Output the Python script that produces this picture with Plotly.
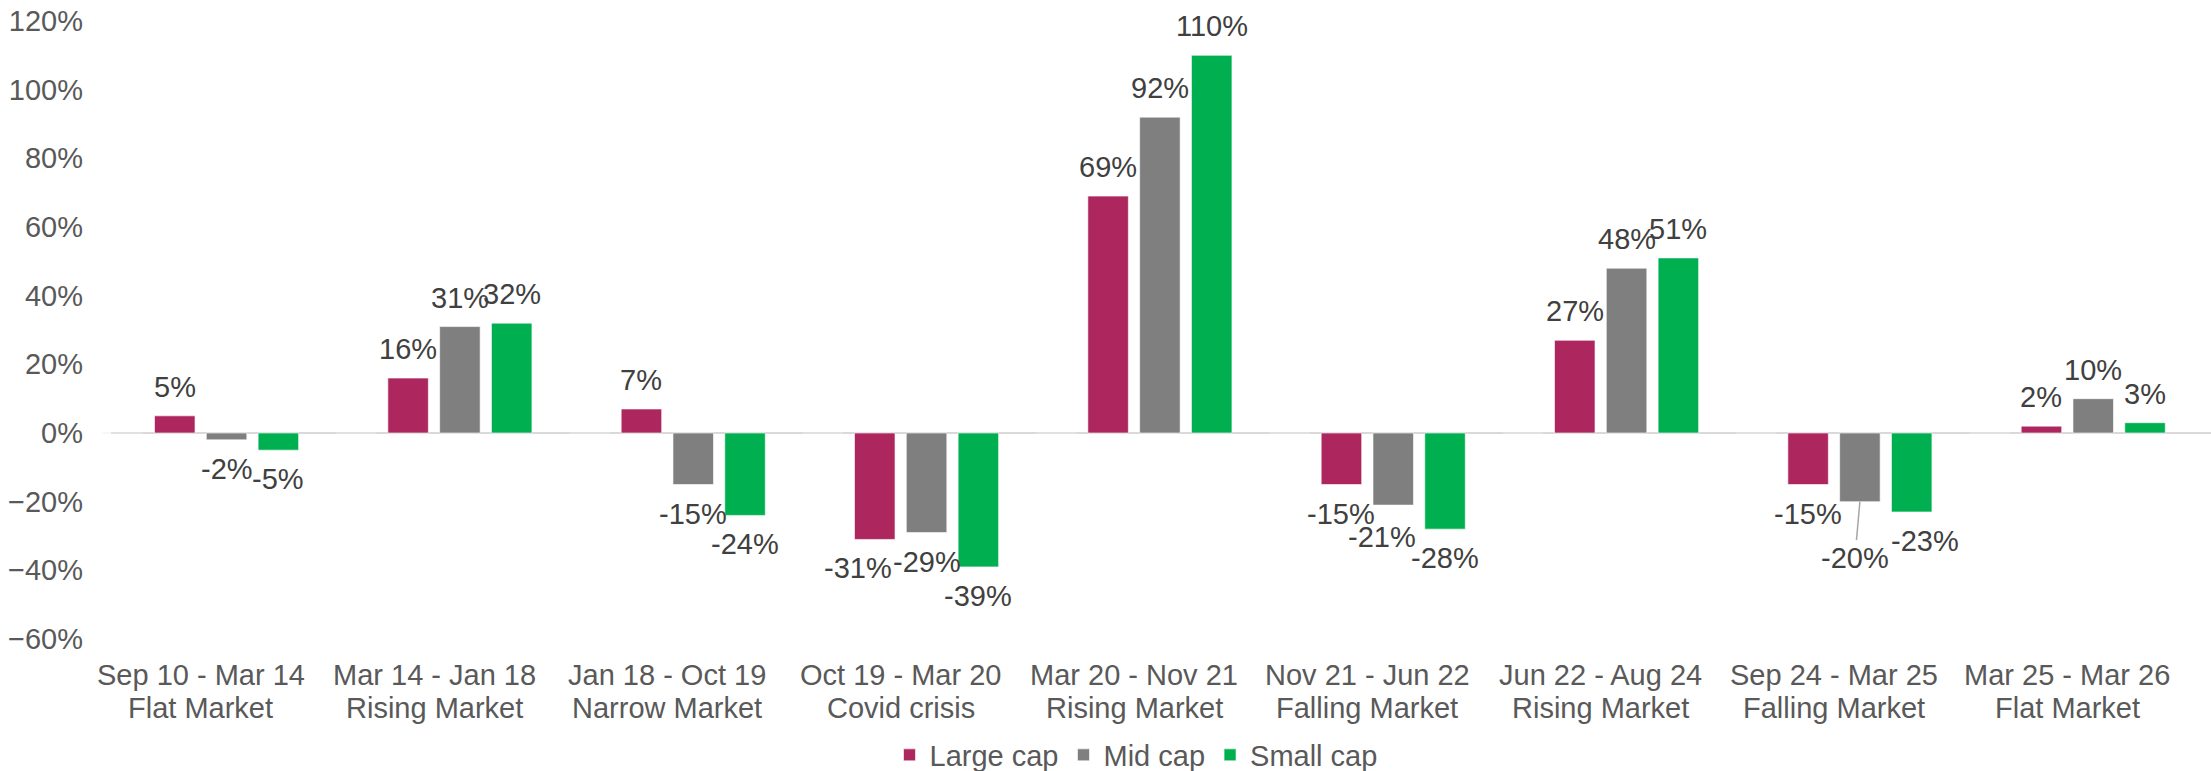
import plotly.graph_objects as go

periods = [
    "Sep 10 - Mar 14", "Mar 14 - Jan 18", "Jan 18 - Oct 19", "Oct 19 - Mar 20",
    "Mar 20 - Nov 21", "Nov 21 - Jun 22", "Jun 22 - Aug 24", "Sep 24 - Mar 25",
    "Mar 25 - Mar 26",
]
regimes = [
    "Flat Market", "Rising Market", "Narrow Market", "Covid crisis",
    "Rising Market", "Falling Market", "Rising Market", "Falling Market",
    "Flat Market",
]
categories = [f"{p}<br>{r}" for p, r in zip(periods, regimes)]
large_cap = [0.05, 0.16, 0.07, -0.31, 0.69, -0.15, 0.27, -0.15, 0.02]
mid_cap = [-0.02, 0.31, -0.15, -0.29, 0.92, -0.21, 0.48, -0.20, 0.10]
small_cap = [-0.05, 0.32, -0.24, -0.39, 1.10, -0.28, 0.51, -0.23, 0.03]
empty_series = [0, 0, 0, 0, 0, 0, 0, 0, 0]  # blank series occupying first slot (as in source chart)

series = [
    ("Large cap", large_cap, "#AD265E"),
    ("Mid cap", mid_cap, "#7F7F7F"),
    ("Small cap", small_cap, "#00B050"),
]

W, H = 2211, 771
ML, MR, MT, MB = 84, 27, 21, 132
BARGAP, BARGROUPGAP = 0.112, 0.218
NSLOTS = 4
FONT = "Liberation Sans, Arial, sans-serif"
FS = 29
TICK_COLOR = "#595959"
LABEL_COLOR = "#404040"

# label nudges (px) mimicking the reference's label placement: (series, category) -> (dx, dy)
nudges = {
    (0, 3): (-17, 0),
    (1, 5): (-11, 3),
    (2, 7): (13, 0),
}
leader = {(1, 7): (-5, 56)}

fig = go.Figure()
fig.add_trace(go.Bar(
    name="", x=categories, y=empty_series, showlegend=False, hoverinfo="skip",
    marker=dict(color="rgba(0,0,0,0)"),
))
for name, vals, color in series:
    fig.add_trace(go.Bar(
        name=name, x=categories, y=vals,
        marker=dict(color=color, line=dict(color="rgba(255,255,255,0.6)", width=1)),
    ))

plot_w = W - ML - MR
plot_h = H - MT - MB
cat_px = plot_w / len(categories)
slot = cat_px * (1 - BARGAP) / NSLOTS

annotations = []
for si, (name, vals, color) in enumerate(series):
    for ci, v in enumerate(vals):
        txt = f"{round(v * 100):.0f}%"
        base_dx = (si + 1 - (NSLOTS - 1) / 2) * slot
        sign = 1 if v >= 0 else -1
        if (si, ci) in leader:
            ax, ay = leader[(si, ci)]
            annotations.append(dict(
                x=categories[ci], y=v, xref="x", yref="y", text=txt,
                xshift=base_dx, showarrow=True, arrowhead=0, arrowwidth=1.5,
                arrowcolor="#A6A6A6", ax=ax, ay=ay, standoff=0,
                font=dict(family=FONT, size=FS, color=LABEL_COLOR),
            ))
            continue
        dx, dy = nudges.get((si, ci), (0, 0))
        annotations.append(dict(
            x=categories[ci], y=v, xref="x", yref="y", text=txt,
            xshift=base_dx + dx, yshift=sign * 29 - dy, showarrow=False,
            xanchor="center", yanchor="middle",
            font=dict(family=FONT, size=FS, color=LABEL_COLOR),
        ))

# two-line category labels (Excel-like tight line spacing)
for ci, cat in enumerate(categories):
    for line_txt, shift in ((periods[ci], -36), (regimes[ci], -69)):
        annotations.append(dict(
            x=cat, y=0, xref="x", yref="paper", text=line_txt,
            yshift=shift, showarrow=False, xanchor="center", yanchor="middle",
            font=dict(family=FONT, size=FS, color=TICK_COLOR),
        ))

fig.update_layout(
    width=W, height=H,
    margin=dict(l=ML, r=MR, t=MT, b=MB, pad=0, autoexpand=False),
    paper_bgcolor="white", plot_bgcolor="white",
    barmode="group", bargap=BARGAP, bargroupgap=BARGROUPGAP,
    font=dict(family=FONT, size=FS, color=TICK_COLOR),
    showlegend=True,
    legend=dict(
        orientation="h", xref="container", yref="container",
        x=1136 / W, xanchor="center",
        y=(H - 755) / H, yanchor="middle",
        font=dict(family=FONT, size=FS, color=TICK_COLOR),
        traceorder="normal",
    ),
    annotations=annotations,
    shapes=[dict(
        type="line", xref="paper", yref="y",
        x0=(111 - ML) / plot_w, x1=(W - ML) / plot_w, y0=0, y1=0,
        line=dict(color="#D9D9D9", width=2), layer="below",
    )],
)
fig.update_yaxes(
    range=[-0.6, 1.2], dtick=0.2, tick0=0, tickformat=".0%",
    showgrid=False, showline=False, zeroline=False, automargin=False,
    ticks="", tickfont=dict(family=FONT, size=FS, color=TICK_COLOR),
)
fig.update_xaxes(
    showgrid=False, showline=False, zeroline=False, automargin=False,
    ticks="", showticklabels=False,
)

fig.write_html(
    "out.html",
    config={"displayModeBar": False},
    post_script="document.body.style.margin='0';document.body.style.overflow='hidden';",
)
